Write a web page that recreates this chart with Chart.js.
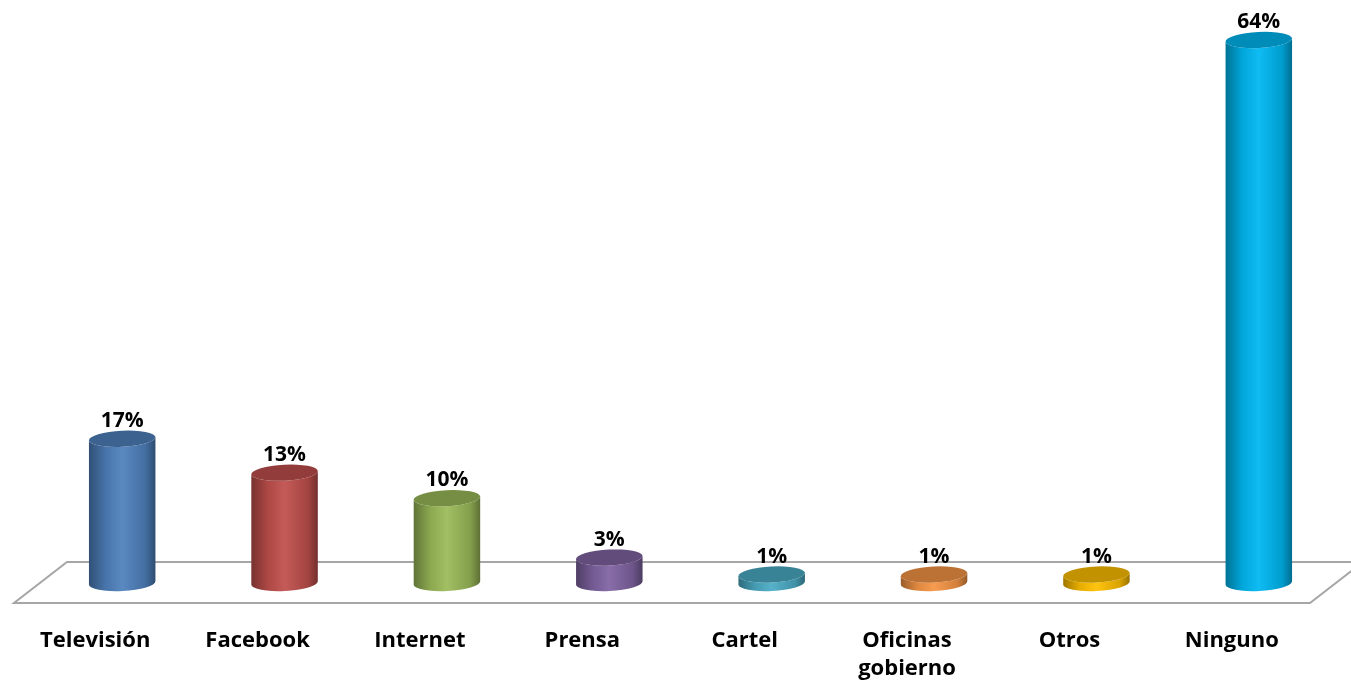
<!DOCTYPE html>
<html>
<head>
<meta charset="utf-8">
<script src="https://cdn.jsdelivr.net/npm/chart.js@4"></script>
<style>
  html, body { margin: 0; padding: 0; background: #fff; }
  #wrap { width: 1351px; height: 681px; }
</style>
</head>
<body>
<div id="wrap"><canvas id="chart" width="1351" height="681"></canvas></div>
<script>
// categories and values
const categories = ['Televisión', 'Facebook', 'Internet', 'Prensa', 'Cartel', ['Oficinas', 'gobierno'], 'Otros', 'Ninguno']
const values = [17, 13, 10, 3, 1, 1, 1, 64]
const valueLabels = ['17%', '13%', '10%', '3%', '1%', '1%', '1%', '64%']
const barColors = ['#4f81bd', '#c0504d', '#9bbb59', '#8064a2', '#4bacc6', '#f79646', '#ffc000', '#00b8f2']

const FONT = '"Open Sans", Lato, sans-serif'
const DEPTH = 27 // pseudo-3D shift of the bars behind the front edge

// darken / lighten a hex colour
function shade(hex, f) {
  const n = parseInt(hex.slice(1), 16)
  let r = (n >> 16) & 255, g = (n >> 8) & 255, b = n & 255
  const adj = c => Math.max(0, Math.min(255, Math.round(f < 1 ? c * f : c + (255 - c) * (f - 1))))
  return `rgb(${adj(r)},${adj(g)},${adj(b)})`
}

// floor parallelogram behind the bars
const floorPlugin = {
  id: 'floor',
  beforeDatasetsDraw(chart) {
    const { ctx, chartArea } = chart
    const base = chart.scales.y.getPixelForValue(0)
    const back = base - 21, front = base + 20
    ctx.save()
    ctx.strokeStyle = '#a6a6a6'
    ctx.lineWidth = 2
    ctx.beginPath()
    ctx.moveTo(chart.width + 20, back)
    ctx.lineTo(chartArea.left + 2 * DEPTH - 1, back)
    ctx.lineTo(chartArea.left, front)
    ctx.lineTo(chartArea.right - 3, front)
    ctx.lineTo(chartArea.right + 2 * DEPTH - 4, back)
    ctx.stroke()
    ctx.restore()
  }
}

// cylinders and value labels
const cylinderPlugin = {
  id: 'cylinders',
  afterDatasetsDraw(chart) {
    const { ctx } = chart
    const meta = chart.getDatasetMeta(0)
    const tilt = -0.05
    meta.data.forEach((bar, i) => {
      const col = barColors[i]
      const rx = bar.width / 2
      const ry = 8
      const x = bar.x + DEPTH, top = bar.y, base = bar.base
      ctx.save()
      const grad = ctx.createLinearGradient(x - rx, 0, x + rx, 0)
      grad.addColorStop(0, shade(col, 0.62))
      grad.addColorStop(0.25, shade(col, 0.9))
      grad.addColorStop(0.5, shade(col, 1.06))
      grad.addColorStop(0.85, shade(col, 0.85))
      grad.addColorStop(1, shade(col, 0.6))
      ctx.fillStyle = grad
      ctx.beginPath()
      ctx.ellipse(x, base, rx, ry, tilt, 0, Math.PI, false)
      ctx.ellipse(x, top, rx, ry, tilt, Math.PI, 0, true)
      ctx.closePath()
      ctx.fill()
      // top cap
      ctx.fillStyle = shade(col, 0.76)
      ctx.beginPath()
      ctx.ellipse(x, top, rx, ry, tilt, 0, Math.PI * 2)
      ctx.fill()
      // value label
      ctx.fillStyle = '#000'
      ctx.font = 'bold 21px ' + FONT
      ctx.textAlign = 'center'
      ctx.textBaseline = 'alphabetic'
      ctx.fillText(valueLabels[i], x, top - ry - 4)
      ctx.restore()
    })
  }
}

new Chart(document.getElementById('chart'), {
  type: 'bar',
  data: {
    labels: categories,
    datasets: [{
      data: values,
      backgroundColor: 'rgba(0,0,0,0)',
      borderWidth: 0,
      categoryPercentage: 1,
      barPercentage: 0.41
    }]
  },
  options: {
    responsive: false,
    animation: false,
    layout: { padding: { top: 23, left: 14, right: 38, bottom: 0 } },
    plugins: { legend: { display: false }, tooltip: { enabled: false } },
    scales: {
      y: { display: false, min: 0, max: 66 },
      x: {
        grid: { display: false },
        border: { display: false },
        ticks: {
          color: '#000',
          font: { family: FONT, size: 22, weight: 'bold', lineHeight: 1.25 },
          padding: 36,
          maxRotation: 0,
          autoSkip: false
        },
        afterFit(scale) { scale.height = 98 }
      }
    }
  },
  plugins: [floorPlugin, cylinderPlugin]
})
</script>
</body>
</html>
